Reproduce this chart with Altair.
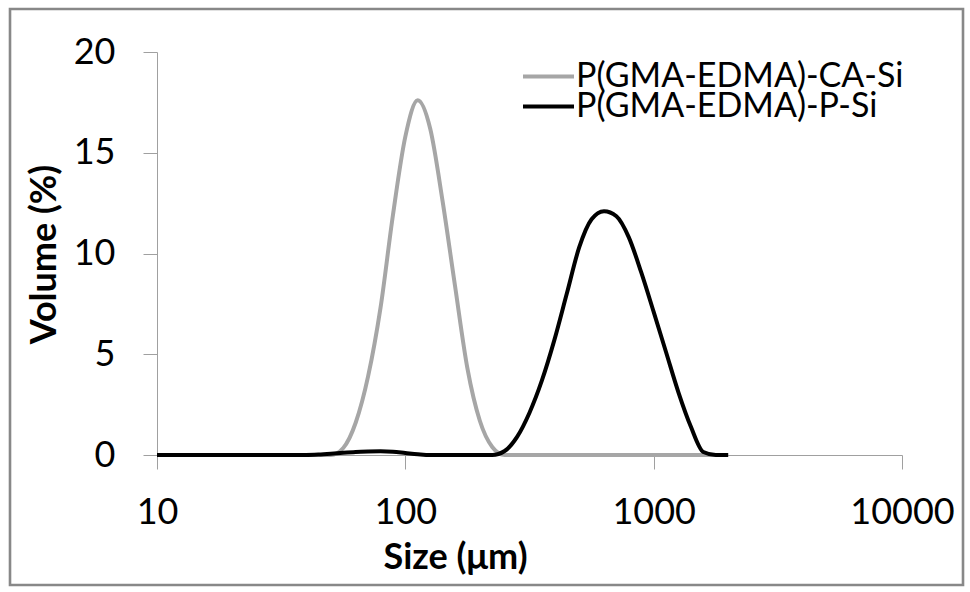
import altair as alt
import pandas as pd

# Particle size classes (µm), logarithmic bins
sizes = [10.000, 11.220, 12.589, 14.125, 15.849, 17.783, 19.953, 22.387, 25.119, 28.184,
         31.623, 35.481, 39.811, 44.668, 50.119, 56.234, 63.096, 70.795, 79.433, 89.125,
         100.000, 112.202, 125.893, 141.254, 158.489, 177.828, 199.526, 223.872, 251.189, 281.838,
         316.228, 354.813, 398.107, 446.684, 501.187, 562.341, 630.957, 707.946, 794.328, 891.251,
         1000.000, 1122.018, 1258.925, 1412.538, 1584.893, 1778.279, 1995.262]

# Volume fraction (%) per size class
ca_si = [0, 0, 0, 0, 0, 0, 0, 0, 0, 0,
         0, 0, 0, 0, 0, 0.35, 1.6, 3.9, 7.3, 11.9,
         15.8, 17.6, 16.2, 12.6, 8.4, 4.3, 1.7, 0.4, 0, 0,
         0, 0, 0, 0, 0, 0, 0, 0, 0, 0,
         0, 0, 0, 0, 0, 0, 0]

p_si = [0, 0, 0, 0, 0, 0, 0, 0, 0, 0,
        0, 0, 0, 0.02, 0.06, 0.11, 0.15, 0.17, 0.18, 0.16,
        0.1, 0.04, 0, 0, 0, 0, 0, 0, 0.2, 0.9,
        2.1, 3.7, 5.7, 8.0, 10.3, 11.7, 12.1, 11.85, 10.8, 9.06,
        7.1, 5.1, 3.1, 1.4, 0.15, 0, 0]

series_names = ["P(GMA-EDMA)-CA-Si", "P(GMA-EDMA)-P-Si"]
series_colors = ["#a6a6a6", "#000000"]

x_ticks = [10, 100, 1000, 10000]
y_ticks = [0, 5, 10, 15, 20]

df = pd.DataFrame({
    "size": sizes + sizes,
    "volume": ca_si + p_si,
    "series": [series_names[0]] * len(sizes) + [series_names[1]] * len(sizes),
})

FONT = "Lato"
AXIS_GRAY = "#a0a0a0"

lines = alt.Chart(df).mark_line(strokeWidth=4, interpolate="monotone").encode(
    x=alt.X(
        "size:Q",
        scale=alt.Scale(type="log", domain=[10, 10000], nice=False),
        axis=alt.Axis(
            values=x_ticks, format="d", title="Size (μm)",
            labelPadding=26, labelFlush=False, titleX=298, titleY=113,
            titleAlign="center", titleBaseline="alphabetic",
        ),
    ),
    y=alt.Y(
        "volume:Q",
        scale=alt.Scale(domain=[0, 20], nice=False),
        axis=alt.Axis(
            values=y_ticks, title="Volume (%)",
            labelPadding=28, labelFlush=False, titleX=-102, titleY=202,
            titleAngle=270, titleAlign="center", titleBaseline="alphabetic",
        ),
    ),
    color=alt.Color(
        "series:N",
        scale=alt.Scale(domain=series_names, range=series_colors),
        legend=alt.Legend(
            title=None, orient="none", legendX=364, legendY=12,
            symbolType="stroke", symbolSize=2601, symbolStrokeWidth=4,
            labelFont=FONT, labelFontSize=34, labelColor="#000000",
            labelOffset=0, rowPadding=-8, clipHeight=25, padding=0, labelLimit=500,
        ),
    ),
)

# outer frame around the whole figure
frame = alt.Chart(pd.DataFrame({"k": [0]})).mark_rect(
    fillOpacity=0, stroke="#888888", strokeWidth=2.6
).encode(
    x=alt.value(-147), x2=alt.value(806), y=alt.value(-43), y2=alt.value(533)
)

chart = alt.layer(frame, lines).properties(
    width=745,
    height=403,
    padding={"left": 157, "top": 52, "right": 68, "bottom": 137},
    autosize="none",
    background="#ffffff",
).configure_view(
    strokeWidth=0
).configure_axis(
    grid=False,
    domainColor=AXIS_GRAY, domainWidth=1,
    tickColor=AXIS_GRAY, tickWidth=1, tickSize=14,
    labelFont=FONT, labelFontSize=36, labelColor="#000000",
    titleFont=FONT, titleFontSize=36, titleFontWeight="bold", titleColor="#000000",
)

chart.save("out.html", embed_options={"renderer": "svg", "actions": False})
